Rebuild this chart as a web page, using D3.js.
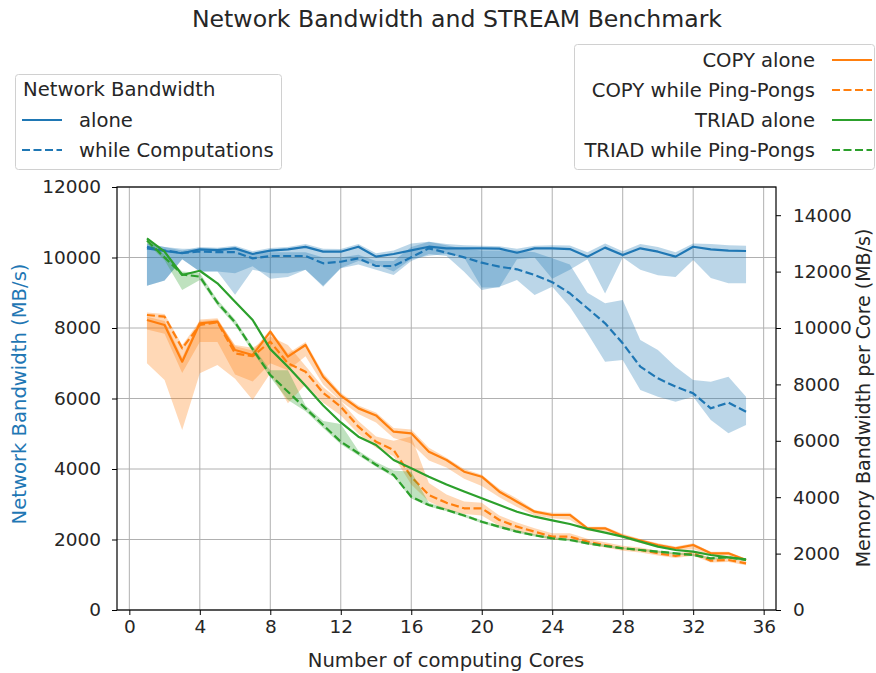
<!DOCTYPE html>
<html><head><meta charset="utf-8">
<script src="https://cdn.jsdelivr.net/npm/d3@7"></script>
<style>body{margin:0;background:#fff;} svg{display:block;font-family:"DejaVu Sans",sans-serif;}</style>
</head><body><svg id="c" width="876" height="673"></svg>
<script>
const cores = d3.range(1, 36);
const xTicks = [0,4,8,12,16,20,24,28,32,36];
const leftTicks = [0,2000,4000,6000,8000,10000,12000];
const rightTicks = [0,2000,4000,6000,8000,10000,12000,14000];

// Network bandwidth (left axis)
const netAlone   = [10260,10185,10120,10230,10210,10260,10100,10195,10230,10300,10165,10165,10306,10024,10100,10200,10306,10260,10260,10260,10250,10136,10260,10260,10240,10024,10280,10070,10260,10165,10024,10306,10230,10195,10185];
const netAloneLo = [9200,9350,9950,9600,9600,9550,9750,9400,9450,9650,9200,9700,9900,9800,9600,9950,10050,10100,10000,9150,9150,9950,10000,9400,9650,9950,8980,10000,9650,9500,9450,9930,9420,9270,9270];
const netAloneHi = [10400,10300,10200,10300,10280,10330,10180,10270,10300,10380,10250,10240,10380,10120,10200,10400,10450,10380,10350,10330,10320,10250,10330,10350,10340,10150,10400,10180,10380,10300,10150,10400,10380,10350,10330];
const netComp    = [10300,10200,10130,10170,10150,10150,9976,10042,10042,10042,9835,9880,9976,9759,9759,10005,10260,10136,10005,9853,9740,9665,9503,9300,8985,8560,8133,7566,6903,6572,6336,6147,5722,5882,5626];
const netCompLo  = [9200,9350,9950,9600,9600,8940,9650,9550,9550,9650,9170,9693,9800,9650,9503,9900,10100,10040,9598,9078,9172,9361,8936,9172,8605,7849,7045,7092,6241,6052,5910,6052,5390,5012,5248];
const netCompHi  = [10400,10300,10250,10250,10250,10280,10100,10150,10150,10150,10000,10000,10080,9900,9900,10300,10450,10350,10250,10200,10200,10200,10150,9976,9800,9000,8700,8794,7660,7376,6903,6525,6477,6619,6052];

// Memory bandwidth per core (right axis)
const copyAlone   = [10284,10106,8806,10166,10224,9220,9043,9869,8983,9397,8273,7600,7150,6900,6323,6266,5613,5319,4904,4727,4195,3840,3486,3369,3369,2897,2897,2624,2458,2300,2187,2305,2010,2010,1773];
const copyAloneLo = [9950,9800,8400,9500,9500,8350,8100,8750,8500,9000,8000,7400,6950,6650,6100,5900,5300,5050,4650,4400,4000,3650,3350,3250,3200,2800,2780,2550,2380,2220,2120,2150,1950,1930,1720];
const copyAloneHi = [10400,10250,8950,10300,10350,9350,9200,9950,9100,9500,8400,7700,7250,7000,6450,6400,5750,5400,5000,4800,4300,3950,3550,3450,3450,2950,2950,2700,2520,2370,2250,2370,2070,2070,1820];
const copyPP      = [10461,10402,9279,10106,10200,9100,9000,9515,8747,8451,7700,7210,6500,5968,5674,4727,4078,3800,3606,3606,3191,2955,2777,2600,2600,2423,2305,2187,2128,2010,1915,2010,1749,1773,1655];
const copyPPLo    = [8747,8156,6383,8392,8688,8200,7447,8392,7329,8000,7350,6900,6250,5750,5450,4450,3850,3550,3400,3350,2980,2780,2650,2480,2480,2330,2220,2100,2040,1930,1840,1920,1680,1700,1590];
const copyPPHi    = [10550,10500,9400,10250,10300,9400,9300,9700,9400,8650,7900,7400,6700,6150,6000,6150,4500,4100,3850,3800,3350,3100,2900,2720,2720,2530,2400,2280,2220,2100,2000,2100,1830,1850,1720];
const triadAlone  = [13180,12705,11880,12030,11585,10933,10283,9250,8628,7950,7250,6650,6145,5851,5319,5025,4727,4450,4200,3961,3720,3486,3309,3180,3050,2875,2742,2600,2423,2246,2128,2069,1950,1868,1797];
const triadPP     = [13100,12500,11900,11820,10900,10200,9250,8333,7740,7150,6560,5968,5560,5150,4787,4018,3723,3550,3350,3131,2950,2777,2650,2541,2482,2364,2270,2187,2128,2069,2010,1950,1832,1868,1773];
const triadPPLo   = [13000,12400,11350,11700,10800,10100,9150,8250,7450,7050,6450,5880,5480,5080,4720,3950,3670,3500,3300,3080,2900,2730,2610,2500,2440,2320,2230,2150,2090,2030,1970,1910,1790,1820,1730];
const triadPPHi   = [13200,12600,12000,11950,11000,10300,9350,8500,8500,7250,6700,6600,5650,5250,4950,4900,3800,3600,3400,3180,3000,2830,2690,2580,2520,2400,2310,2220,2170,2110,2050,1990,1870,1910,1810];

const C = {blue:"#1f77b4", orange:"#ff7f0e", green:"#2ca02c"};
const svg = d3.select("#c");
const L = 117, R = 776, T = 187, B = 610;
const x = d3.scaleLinear().domain([-0.7, 36.7]).range([L, R]);
const yL = d3.scaleLinear().domain([0, 12000]).range([B, T]);
const yR = d3.scaleLinear().domain([0, 15000]).range([B, T]);

// grid
const g = svg.append("g");
g.selectAll(".gx").data(xTicks).join("line").attr("x1", d=>x(d)).attr("x2", d=>x(d)).attr("y1", T).attr("y2", B).attr("stroke", "#b0b0b0").attr("stroke-width", 1);
g.selectAll(".gy").data(leftTicks).join("line").attr("x1", L).attr("x2", R).attr("y1", d=>yL(d)).attr("y2", d=>yL(d)).attr("stroke", "#b0b0b0").attr("stroke-width", 1);

svg.append("clipPath").attr("id","clp").append("rect").attr("x",L).attr("y",T).attr("width",R-L).attr("height",B-T);
const plot = svg.append("g").attr("clip-path","url(#clp)");

function band(lo, hi, ys, color) {
  const a = d3.area().x((d,i)=>x(cores[i])).y0((d,i)=>ys(lo[i])).y1((d,i)=>ys(hi[i]));
  plot.append("path").datum(lo).attr("d", a).attr("fill", color).attr("fill-opacity", 0.3);
}
function line(vals, ys, color, dashed) {
  const l = d3.line().x((d,i)=>x(cores[i])).y(d=>ys(d));
  const p = plot.append("path").datum(vals).attr("d", l).attr("fill","none").attr("stroke", color).attr("stroke-width", 2.2).attr("stroke-linejoin","round");
  if (dashed) p.attr("stroke-dasharray", "8,3.5");
}
band(netAloneLo, netAloneHi, yL, C.blue);
band(netCompLo, netCompHi, yL, C.blue);
line(netAlone, yL, C.blue, false);
line(netComp, yL, C.blue, true);

band(copyAloneLo, copyAloneHi, yR, C.orange);
line(copyAlone, yR, C.orange, false);
band(copyPPLo, copyPPHi, yR, C.orange);
line(copyPP, yR, C.orange, true);
line(triadAlone, yR, C.green, false);
band(triadPPLo, triadPPHi, yR, C.green);
line(triadPP, yR, C.green, true);

// axes
const tfs = "18.5px", fs = "19.6px";
const ax = svg.append("g").attr("transform", `translate(0,${B})`).call(d3.axisBottom(x).tickValues(xTicks).tickSize(5).tickPadding(5));
const ayl = svg.append("g").attr("transform", `translate(${L},0)`).call(d3.axisLeft(yL).tickValues(leftTicks).tickFormat(d3.format("d")).tickSize(5).tickPadding(11));
const ayr = svg.append("g").attr("transform", `translate(${R},0)`).call(d3.axisRight(yR).tickValues(rightTicks).tickFormat(d3.format("d")).tickSize(5).tickPadding(12));
[ax, ayl, ayr].forEach(a => { a.selectAll("text").attr("font-size", tfs).attr("fill","#262626").attr("font-family","DejaVu Sans"); a.select(".domain").remove(); a.selectAll("line").attr("stroke","#000").attr("stroke-width",1); });
svg.append("rect").attr("x",L).attr("y",T).attr("width",R-L).attr("height",B-T).attr("fill","none").attr("stroke","#000").attr("stroke-width",1.2);

// labels
svg.append("text").attr("x", 446).attr("y", 667).attr("text-anchor","middle").attr("font-size", fs).attr("fill","#262626").text("Number of computing Cores");
svg.append("text").attr("transform", `translate(26,394) rotate(-90)`).attr("text-anchor","middle").attr("font-size", fs).attr("fill", C.blue).text("Network Bandwidth (MB/s)");
svg.append("text").attr("transform", `translate(870,398) rotate(-90)`).attr("text-anchor","middle").attr("font-size", "19px").attr("fill","#262626").text("Memory Bandwidth per Core (MB/s)");
svg.append("text").attr("x", 457).attr("y", 27).attr("text-anchor","middle").attr("font-size","23.6px").attr("fill","#262626").text("Network Bandwidth and STREAM Benchmark");

// left legend
const lg = svg.append("g");
lg.append("rect").attr("x",15.5).attr("y",74.5).attr("width",266).attr("height",95).attr("rx",3).attr("fill","#fff").attr("fill-opacity",0.8).attr("stroke","#d0d0d0");
lg.append("text").attr("x",23).attr("y",96).attr("font-size",fs).attr("fill","#262626").text("Network Bandwidth");
const leftItems = [{t:"alone", d:false, y:120},{t:"while Computations", d:true, y:150}];
leftItems.forEach(it => {
  const l = lg.append("line").attr("x1",22).attr("x2",62).attr("y1",it.y).attr("y2",it.y).attr("stroke",C.blue).attr("stroke-width",2.2);
  if (it.d) l.attr("stroke-dasharray","8,3.5");
  lg.append("text").attr("x",79).attr("y",it.y+7).attr("font-size",fs).attr("fill","#262626").text(it.t);
});
// right legend
const rg = svg.append("g");
rg.append("rect").attr("x",574.5).attr("y",44.5).attr("width",300).attr("height",125).attr("rx",3).attr("fill","#fff").attr("fill-opacity",0.8).attr("stroke","#d0d0d0");
const rightItems = [{t:"COPY alone",c:C.orange,d:false,y:60},{t:"COPY while Ping-Pongs",c:C.orange,d:true,y:90},{t:"TRIAD alone",c:C.green,d:false,y:120},{t:"TRIAD while Ping-Pongs",c:C.green,d:true,y:150}];
rightItems.forEach(it => {
  const l = rg.append("line").attr("x1",832).attr("x2",872).attr("y1",it.y).attr("y2",it.y).attr("stroke",it.c).attr("stroke-width",2.2);
  if (it.d) l.attr("stroke-dasharray","8,3.5");
  rg.append("text").attr("x",815).attr("y",it.y+7).attr("text-anchor","end").attr("font-size",fs).attr("fill","#262626").text(it.t);
});
</script></body></html>
